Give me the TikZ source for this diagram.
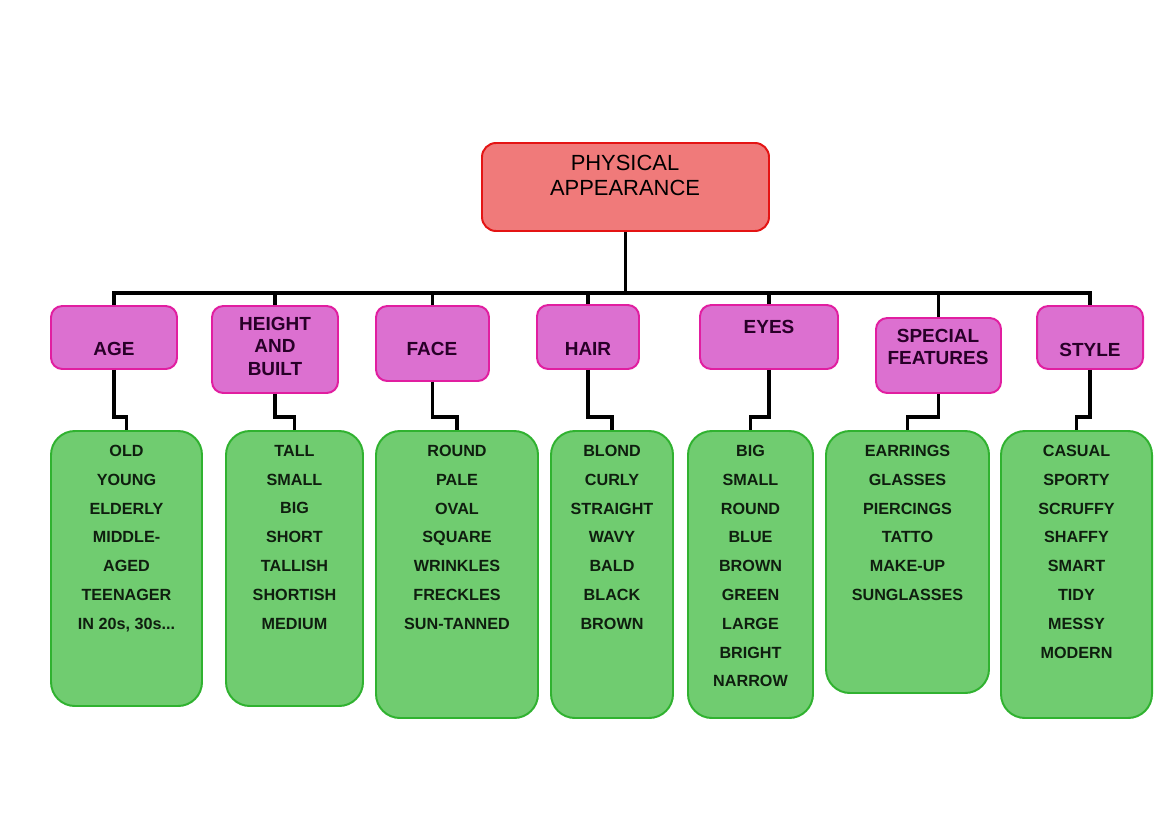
\documentclass[tikz,border=0pt]{standalone}
\usepackage{fontspec}
\setmainfont{Liberation Sans}
\usetikzlibrary{fit}

\definecolor{topfill}{RGB}{240,122,122}
\definecolor{topline}{RGB}{228,20,20}
\definecolor{catfill}{RGB}{220,112,208}
\definecolor{catline}{RGB}{225,30,160}
\definecolor{catink}{RGB}{40,0,40}
\definecolor{listfill}{RGB}{112,204,112}
\definecolor{listline}{RGB}{48,178,48}
\definecolor{listink}{RGB}{15,30,15}

\tikzset{
  topbox/.style={draw=topline, fill=topfill, line width=1.4pt, rounded corners=10pt, inner sep=0pt},
  catbox/.style={draw=catline, fill=catfill, line width=1.4pt, rounded corners=8pt, inner sep=0pt},
  listbox/.style={draw=listline, fill=listfill, line width=1.4pt, rounded corners=17pt, inner sep=0pt},
  conn/.style={line width=2.2pt},
  toptext/.style={font=\fontsize{15.6}{17.8}\selectfont, align=center, inner sep=0pt},
  cattext/.style={text=catink, font=\bfseries\fontsize{13.5}{16}\selectfont, align=center, inner sep=0pt},
  listtext/.style={text=listink, font=\bfseries\fontsize{11.5}{20.5}\selectfont, align=center, inner sep=0pt, anchor=north, yshift=-10.5pt}
}

\begin{document}
\begin{tikzpicture}[x=0.025cm, y=-0.025cm]
\useasboundingbox (0,0) rectangle (1169,821);

% top box
\node[topbox, fit={(482,143) (769,231)}] (top) {};
\node[toptext] (toplabel) at (625,175) {PHYSICAL\\APPEARANCE};

% categories
\node[catbox, fit={(51,306) (177,369)}] (age) {};
\node[catbox, fit={(212,306) (338,393)}] (height) {};
\node[catbox, fit={(376,306) (489,381)}] (face) {};
\node[catbox, fit={(537,305) (639,369)}] (hair) {};
\node[catbox, fit={(700,305) (838,369)}] (eyes) {};
\node[catbox, fit={(876,318) (1001,393)}] (special) {};
\node[catbox, fit={(1037,306) (1143,369)}] (style) {};

\node[cattext] (agelabel) at (114,349) {AGE};
\node[cattext] (heightlabel) at (275,346) {HEIGHT\\AND\\BUILT};
\node[cattext] (facelabel) at (432,349) {FACE};
\node[cattext] (hairlabel) at (588,349) {HAIR};
\node[cattext] (eyeslabel) at (769,327) {EYES};
\node[cattext] (speciallabel) at (938,347) {SPECIAL\\FEATURES};
\node[cattext] (stylelabel) at (1090,350) {STYLE};

% word lists
\node[listbox, fit={(51,431) (202,706)}] (agelist) {};
\node[listbox, fit={(226,431) (363,706)}] (heightlist) {};
\node[listbox, fit={(376,431) (538,718)}] (facelist) {};
\node[listbox, fit={(551,431) (673,718)}] (hairlist) {};
\node[listbox, fit={(688,431) (813,718)}] (eyeslist) {};
\node[listbox, fit={(826,431) (989,693)}] (speciallist) {};
\node[listbox, fit={(1001,431) (1152,718)}] (stylelist) {};

\node[listtext] (agewords) at (agelist.north) {OLD\\YOUNG\\ELDERLY\\MIDDLE-\\AGED\\TEENAGER\\IN 20s, 30s...};
\node[listtext] (heightwords) at (heightlist.north) {TALL\\SMALL\\BIG\\SHORT\\TALLISH\\SHORTISH\\MEDIUM};
\node[listtext] (facewords) at (facelist.north) {ROUND\\PALE\\OVAL\\SQUARE\\WRINKLES\\FRECKLES\\SUN-TANNED};
\node[listtext] (hairwords) at (hairlist.north) {BLOND\\CURLY\\STRAIGHT\\WAVY\\BALD\\BLACK\\BROWN};
\node[listtext] (eyeswords) at (eyeslist.north) {BIG\\SMALL\\ROUND\\BLUE\\BROWN\\GREEN\\LARGE\\BRIGHT\\NARROW};
\node[listtext] (specialwords) at (speciallist.north) {EARRINGS\\GLASSES\\PIERCINGS\\TATTO\\MAKE-UP\\SUNGLASSES};
\node[listtext] (stylewords) at (stylelist.north) {CASUAL\\SPORTY\\SCRUFFY\\SHAFFY\\SMART\\TIDY\\MESSY\\MODERN};

% connectors
\coordinate (bar) at (0,293);
\coordinate (knee) at (0,417);
\draw[conn] (top.south) -- (top.south |- bar);
\draw[conn] (age.north) -- (age.north |- bar) -- (style.north |- bar) -- (style.north);
\draw[conn] (height.north) -- (height.north |- bar);
\draw[conn] (face.north) -- (face.north |- bar);
\draw[conn] (hair.north) -- (hair.north |- bar);
\draw[conn] (eyes.north) -- (eyes.north |- bar);
\draw[conn] (special.north) -- (special.north |- bar);

\draw[conn] (age.south) -- (age.south |- knee) -- (agelist.north |- knee) -- (agelist.north);
\draw[conn] (height.south) -- (height.south |- knee) -- (heightlist.north |- knee) -- (heightlist.north);
\draw[conn] (face.south) -- (face.south |- knee) -- (facelist.north |- knee) -- (facelist.north);
\draw[conn] (hair.south) -- (hair.south |- knee) -- (hairlist.north |- knee) -- (hairlist.north);
\draw[conn] (eyes.south) -- (eyes.south |- knee) -- (eyeslist.north |- knee) -- (eyeslist.north);
\draw[conn] (special.south) -- (special.south |- knee) -- (speciallist.north |- knee) -- (speciallist.north);
\draw[conn] (style.south) -- (style.south |- knee) -- (stylelist.north |- knee) -- (stylelist.north);
\end{tikzpicture}
\end{document}
